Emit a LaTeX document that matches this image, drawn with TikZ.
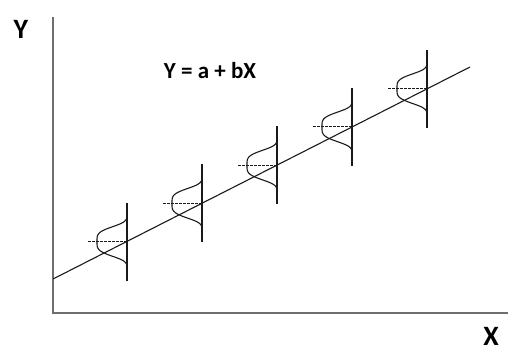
\documentclass[tikz,border=0pt]{standalone}
\usepackage{fontspec}
\setmainfont{Carlito}
\usetikzlibrary{positioning}
\definecolor{AxisGray}{HTML}{6E6E6E}
\definecolor{InkBlack}{HTML}{1A1A1A}
\tikzset{
  axisline/.style={draw=AxisGray, line width=2.6pt},
  fitline/.style={draw=InkBlack, line width=1.1pt},
  spreadline/.style={draw=InkBlack, line width=1.8pt},
  bellcurve/.style={draw=InkBlack, line width=1.1pt, smooth},
  meanline/.style={draw=InkBlack, line width=0.9pt, dash pattern=on 2.5pt off 1.5pt},
  axislabel/.style={font=\fontsize{28}{30}\selectfont\bfseries, inner sep=0pt},
  modellabel/.style={font=\fontsize{23}{25}\selectfont\bfseries},
}

\begin{document}
\begin{tikzpicture}[x=1pt, y=-1pt]
  \useasboundingbox (0,0) rectangle (508,351);
  \coordinate (origin) at (53,313);
  \coordinate (ytop) at (53,17);
  \coordinate (xend) at (508,313);
  \coordinate (fitstart) at (53,279);
  \coordinate (fitend) at (470,67);
  % axes and labels
  \draw[axisline] (ytop) -- (origin) -- (xend);
  \node[axislabel] (ylabel) at (21,29) {Y};
  \node[axislabel] (xlabel) at (491,336) {X};
  \node[modellabel] (model) at (210,71) {Y = a + bX};
  % regression line
  \draw[fitline] (fitstart) -- (fitend);
  % error distributions along the line
  \foreach \i in {0,...,4} {
    \pgfmathsetmacro{\cx}{127+75*\i}
    \pgfmathsetmacro{\cy}{241.5-38.2*\i}
    \coordinate (mu\i) at (\cx,\cy);
    \coordinate (top\i) at (\cx,\cy-39);
    \coordinate (bot\i) at (\cx,\cy+39);
    \coordinate (tail\i) at (\cx-39,\cy);
    \draw[spreadline] (top\i) -- (bot\i);
    \draw[meanline] (tail\i) -- (mu\i);
    \draw[bellcurve] plot[domain=-27:27, samples=55]
      ({\cx-30*exp(-(\x/16)*(\x/16)*(\x/16)*(\x/16))}, {\cy+\x});
  }
\end{tikzpicture}
\end{document}
